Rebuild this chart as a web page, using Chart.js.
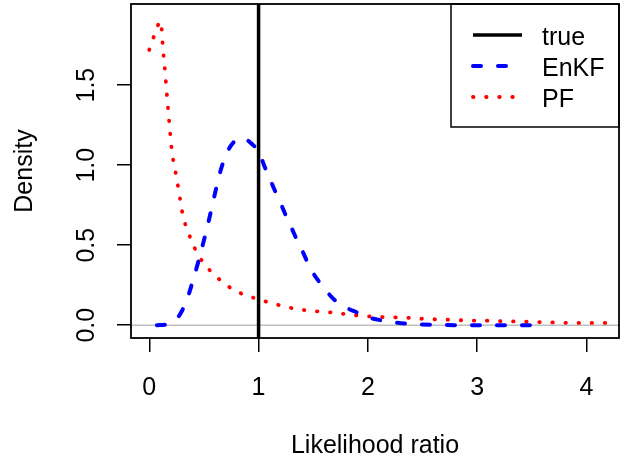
<!DOCTYPE html>
<html>
<head>
<meta charset="utf-8">
<script src="https://cdn.jsdelivr.net/npm/chart.js@4.4.1/dist/chart.umd.min.js"></script>
<style>
  body { margin: 0; background: #fff; }
  #wrap { width: 624px; height: 461px; }
</style>
</head>
<body>
<div id="wrap"><canvas id="densityChart"></canvas></div>
<script>
// values
const trueValue = 1;

const pfX = [0, 0.04, 0.08, 0.105, 0.125, 0.145, 0.165, 0.185, 0.21, 0.23, 0.25, 0.27, 0.29, 0.31,
    0.35, 0.39, 0.44, 0.5, 0.58, 0.67, 0.77, 0.88, 1.0, 1.1, 1.2, 1.35, 1.5, 1.7, 1.9, 2.1,
    2.3, 2.5, 2.7, 2.9, 3.1, 3.3, 3.5, 3.7, 3.9, 4.1, 4.21];
const pfY = [1.72, 1.80, 1.875, 1.90, 1.735, 1.58, 1.41, 1.25, 1.07, 0.995, 0.92, 0.84, 0.755, 0.675,
    0.595, 0.52, 0.45, 0.385, 0.325, 0.27, 0.222, 0.188, 0.162, 0.141, 0.123, 0.101, 0.089, 0.077, 0.061, 0.052,
    0.048, 0.040, 0.035, 0.030, 0.028, 0.024, 0.021, 0.017, 0.014, 0.014, 0.014];

const enkfX = [0.07, 0.17, 0.25, 0.3, 0.35, 0.4, 0.45, 0.5, 0.55, 0.6, 0.65, 0.7, 0.75, 0.8, 0.85,
    0.9, 0.95, 1.0, 1.05, 1.1, 1.15, 1.2, 1.25, 1.3, 1.35, 1.4, 1.45, 1.5, 1.55, 1.6, 1.7,
    1.8, 1.9, 2.0, 2.15, 2.3, 2.45, 2.6, 2.9, 3.3, 3.62];
const enkfY = [0, 0.006, 0.04, 0.09, 0.17, 0.28, 0.40, 0.53, 0.67, 0.82, 0.96, 1.06, 1.125, 1.16, 1.17,
    1.155, 1.125, 1.09, 1.0, 0.92, 0.84, 0.765, 0.685, 0.61, 0.535, 0.465, 0.39, 0.325, 0.275, 0.23, 0.155,
    0.11, 0.08, 0.05, 0.027, 0.013, 0.005, 0.002, 0, 0, 0];

const xTicks = [0, 1, 2, 3, 4];
const yTicks = [0, 0.5, 1, 1.5];
const yTickLabels = ["0.0", "0.5", "1.0", "1.5"];

const FONT = "'Liberation Sans', Arial, Helvetica, sans-serif";
const FONT_SIZE = 25;

function toPoints(xs, ys) {
    return xs.map((x, i) => ({ x: x, y: ys[i] }));
}

// R style extras: box, grey zero line, rotated y labels, legend
const rStylePlugin = {
    id: "rStyle",
    beforeDatasetsDraw(chart) {
        const { ctx, chartArea, scales } = chart;
        const y0 = scales.y.getPixelForValue(0);
        ctx.save();
        ctx.strokeStyle = "#bebebe";
        ctx.lineWidth = 1.5;
        ctx.beginPath();
        ctx.moveTo(chartArea.left, y0);
        ctx.lineTo(chartArea.right, y0);
        ctx.stroke();
        ctx.restore();
    },
    afterDraw(chart) {
        const { ctx, chartArea, scales } = chart;
        ctx.save();
        // box
        ctx.strokeStyle = "#000";
        ctx.lineWidth = 1.8;
        ctx.strokeRect(chartArea.left, chartArea.top, chartArea.right - chartArea.left, chartArea.bottom - chartArea.top);

        // y tick labels, rotated like R
        ctx.fillStyle = "#000";
        ctx.font = FONT_SIZE + "px " + FONT;
        ctx.textAlign = "center";
        ctx.textBaseline = "alphabetic";
        yTicks.forEach((v, i) => {
            const py = scales.y.getPixelForValue(v);
            ctx.save();
            ctx.translate(94, py);
            ctx.rotate(-Math.PI / 2);
            ctx.fillText(yTickLabels[i], 0, 0);
            ctx.restore();
        });

        // legend
        const lx = 451, ly = chartArea.top, lw = chartArea.right - 451, lh = 123;
        ctx.lineWidth = 1.5;
        ctx.strokeRect(lx, ly, lw, lh);
        const rows = [35, 66, 97];
        chart.data.datasets.forEach((ds, i) => {
            const y = rows[i];
            ctx.save();
            ctx.strokeStyle = ds.borderColor;
            ctx.lineWidth = ds.borderWidth;
            ctx.lineCap = ds.borderCapStyle || "butt";
            ctx.setLineDash(ds.borderDash || []);
            ctx.beginPath();
            ctx.moveTo(473, y);
            ctx.lineTo(522, y);
            ctx.stroke();
            ctx.restore();
            ctx.fillStyle = "#000";
            ctx.textAlign = "left";
            ctx.fillText(ds.label, 542, y + 9.5);
        });
        ctx.restore();
    }
};

const ctx = document.getElementById("densityChart").getContext("2d");
new Chart(ctx, {
    type: "scatter",
    data: {
        datasets: [
            {
                label: "true",
                data: [{ x: trueValue, y: -1 }, { x: trueValue, y: 3 }],
                showLine: true,
                borderColor: "#000",
                borderWidth: 3.5,
                pointRadius: 0
            },
            {
                label: "EnKF",
                data: toPoints(enkfX, enkfY),
                showLine: true,
                borderColor: "#0000ff",
                borderWidth: 4,
                borderDash: [8, 17],
                borderCapStyle: "round",
                cubicInterpolationMode: "monotone",
                pointRadius: 0
            },
            {
                label: "PF",
                data: toPoints(pfX, pfY),
                showLine: true,
                borderColor: "#ff0000",
                borderWidth: 3.8,
                borderDash: [0.5, 12.6],
                borderCapStyle: "round",
                cubicInterpolationMode: "monotone",
                pointRadius: 0
            }
        ]
    },
    options: {
        responsive: true,
        maintainAspectRatio: false,
        animation: false,
        layout: { padding: { top: 4, right: 5, left: 0, bottom: 0 } },
        plugins: {
            legend: { display: false },
            tooltip: { enabled: false }
        },
        scales: {
            x: {
                type: "linear",
                min: -0.167,
                max: 4.297,
                afterBuildTicks: (scale) => { scale.ticks = xTicks.map(v => ({ value: v })); },
                afterFit: (scale) => { scale.height = 123; },
                grid: { drawOnChartArea: false, drawTicks: true, tickLength: 14, color: "#000", lineWidth: 1.5 },
                border: { display: false },
                ticks: {
                    color: "#000",
                    font: { family: FONT, size: FONT_SIZE },
                    padding: 21,
                    maxRotation: 0,
                    callback: (v) => String(v)
                },
                title: {
                    display: true,
                    text: "Likelihood ratio",
                    color: "#000",
                    font: { family: FONT, size: FONT_SIZE },
                    padding: { top: 22, bottom: 0 }
                }
            },
            y: {
                type: "linear",
                min: -0.08,
                max: 2.007,
                afterBuildTicks: (scale) => { scale.ticks = yTicks.map(v => ({ value: v })); },
                afterFit: (scale) => { scale.width = 131; },
                grid: { drawOnChartArea: false, drawTicks: true, tickLength: 14, color: "#000", lineWidth: 1.5 },
                border: { display: false },
                ticks: { display: false },
                title: {
                    display: true,
                    text: "Density",
                    color: "#000",
                    font: { family: FONT, size: FONT_SIZE },
                    padding: { top: 10, bottom: 0 }
                }
            }
        }
    },
    plugins: [rStylePlugin]
});
</script>
</body>
</html>
